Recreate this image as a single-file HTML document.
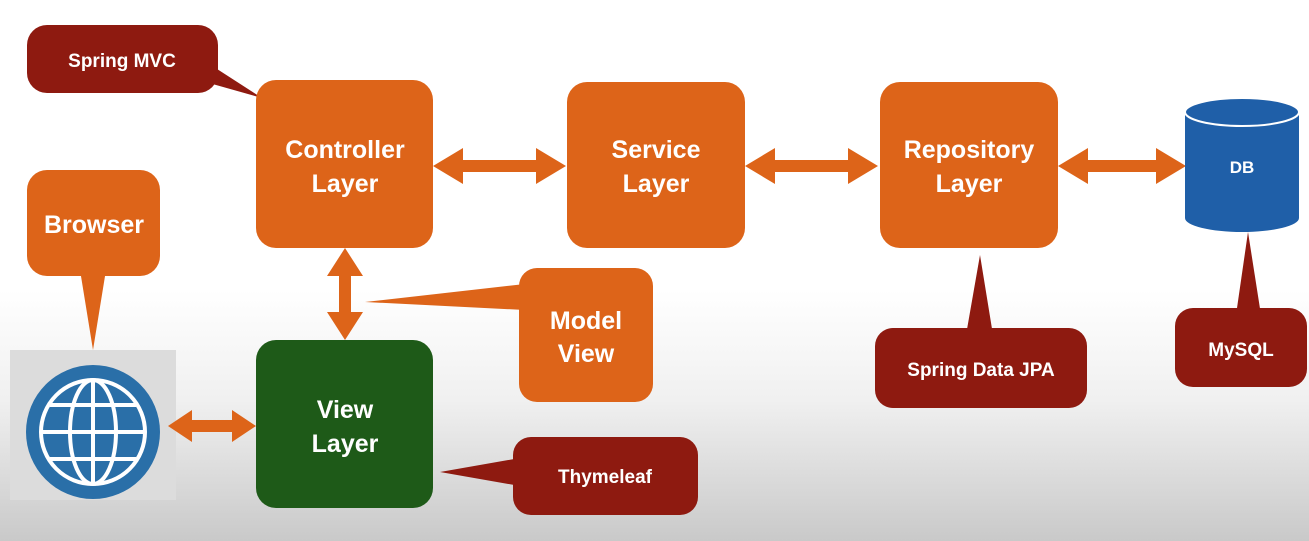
<!DOCTYPE html>
<html><head><style>
html,body{margin:0;padding:0;width:1309px;height:541px;overflow:hidden;}
body{background:linear-gradient(#fff 0,#fff 290px,#f0f0f0 400px,#c9c9c9 541px);}
svg{position:absolute;left:0;top:0}
text{font-family:"Liberation Sans",sans-serif;font-weight:bold;fill:#fff;text-anchor:middle}
</style></head><body>
<svg width="1309" height="541" viewBox="0 0 1309 541">
<g fill="#dd6419">
<polygon points="433,166 463,148 463,160 536,160 536,148 566,166 536,184 536,172 463,172 463,184"/>
<polygon points="745,166 775,148 775,160 848,160 848,148 878,166 848,184 848,172 775,172 775,184"/>
<polygon points="1058,166 1088,148 1088,160 1156,160 1156,148 1186,166 1156,184 1156,172 1088,172 1088,184"/>
<polygon points="345,248 363,276 351,276 351,312 363,312 345,340 327,312 339,312 339,276 327,276"/>
</g>
<polygon points="170,72 262,98 200,58" fill="#8e1a10"/>
<rect x="27" y="25" width="191" height="68" rx="20" fill="#8e1a10"/>
<text x="122" y="67" font-size="19">Spring MVC</text>
<rect x="256" y="80" width="177" height="168" rx="20" fill="#dd6419"/>
<text x="345" y="158" font-size="25">Controller</text>
<text x="345" y="192" font-size="25">Layer</text>
<rect x="567" y="82" width="178" height="166" rx="20" fill="#dd6419"/>
<text x="656" y="158" font-size="25">Service</text>
<text x="656" y="192" font-size="25">Layer</text>
<rect x="880" y="82" width="178" height="166" rx="20" fill="#dd6419"/>
<text x="969" y="158" font-size="25">Repository</text>
<text x="969" y="192" font-size="25">Layer</text>
<path d="M1185,112 L1185,218 A57,14 0 0 0 1299,218 L1299,112 Z" fill="#1f5fa8"/>
<ellipse cx="1242" cy="112" rx="57" ry="14" fill="#1f5fa8" stroke="#fff" stroke-width="2"/>
<text x="1242" y="173" font-size="17">DB</text>
<polygon points="80,270 106,270 93,350" fill="#dd6419"/>
<rect x="27" y="170" width="133" height="106" rx="20" fill="#dd6419"/>
<text x="94" y="233" font-size="25">Browser</text>
<rect x="10" y="350" width="166" height="150" fill="#dcdcdc"/>
<circle cx="93" cy="432" r="67" fill="#2a6fa8"/>
<g fill="none" stroke="#fff" stroke-width="4">
<circle cx="93" cy="432" r="52"/>
<ellipse cx="93" cy="432" rx="23" ry="52"/>
<line x1="93" y1="380" x2="93" y2="484"/>
<line x1="41" y1="432" x2="145" y2="432"/>
<line x1="50" y1="405" x2="136" y2="405"/>
<line x1="50" y1="459" x2="136" y2="459"/>
</g>
<polygon fill="#dd6419" points="168,426 192,410 192,420 232,420 232,410 256,426 232,442 232,432 192,432 192,442"/>
<rect x="256" y="340" width="177" height="168" rx="20" fill="#1e5a18"/>
<text x="345" y="418" font-size="25">View</text>
<text x="345" y="452" font-size="25">Layer</text>
<polygon points="525,284 365,302 525,310" fill="#dd6419"/>
<rect x="519" y="268" width="134" height="134" rx="18" fill="#dd6419"/>
<text x="586" y="329" font-size="25">Model</text>
<text x="586" y="362" font-size="25">View</text>
<polygon points="520,458 440,472 520,486" fill="#8e1a10"/>
<rect x="513" y="437" width="185" height="78" rx="18" fill="#8e1a10"/>
<text x="605" y="483" font-size="19">Thymeleaf</text>
<polygon points="966,335 980,255 993,335" fill="#8e1a10"/>
<rect x="875" y="328" width="212" height="80" rx="18" fill="#8e1a10"/>
<text x="981" y="376" font-size="19">Spring Data JPA</text>
<polygon points="1236,315 1248,232 1261,315" fill="#8e1a10"/>
<rect x="1175" y="308" width="132" height="79" rx="18" fill="#8e1a10"/>
<text x="1241" y="356" font-size="19">MySQL</text>
</svg>
</body></html>
